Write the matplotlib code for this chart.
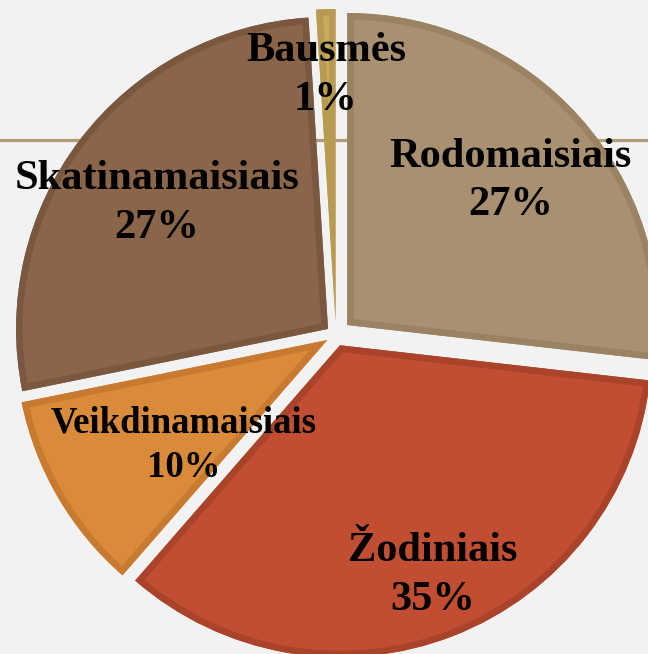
import numpy as np
import matplotlib
matplotlib.use("Agg")
import matplotlib.pyplot as plt
from matplotlib.patches import Wedge

# Data (shares; labels show rounded percentages)
categories = ["Rodomaisiais", "Žodiniais", "Veikdinamaisiais", "Skatinamaisiais", "Bausmės"]
values = [26.8, 34.6, 10.4, 27.2, 1.0]

# Styles
fills = ["#A89070", "#C14E32", "#DA8B3A", "#8A654A", "#C9AB5E"]
edges = ["#9A8262", "#A9432A", "#C77A30", "#7A5840", "#B89A50"]
explode_px = [15, 11, 10, 10, 14]
label_r = [0.751, 0.825, 0.598, 0.716, 0.839]
label_dang = [0.0, 0.9, 5.25, 0.8, 0.4]
label_size = [30.5, 30.5, 26.5, 30.5, 30.5]

W, H = 648, 654
fig = plt.figure(figsize=(W / 100, H / 100), dpi=100, facecolor="#F2F2F2")
ax = fig.add_axes([0, 0, 1, 1])
ax.set_facecolor("#F2F2F2")

# decorative horizontal rule
ax.axhline(H - 140, color="#B39B74", lw=2.3, zorder=0)

cx, cy, R = 336, H - 335, 312
wedges, _ = ax.pie(values, startangle=90, counterclock=False, colors=fills,
                   explode=explode_px, center=(cx, cy), radius=R,
                   wedgeprops=dict(linewidth=0), frame=True)

for w, ec in zip(wedges, edges):
    w.set_zorder(2)
    b = Wedge(w.center, w.r, w.theta1, w.theta2, facecolor="none",
              edgecolor=ec, linewidth=9.5, zorder=3)
    ax.add_patch(b)
    b.set_clip_path(w)

for w, cat, v, lr, da, fs in zip(wedges, categories, values, label_r,
                                 label_dang, label_size):
    mid = np.deg2rad((w.theta1 + w.theta2) / 2 + da)
    x = cx + lr * R * np.cos(mid)
    y = cy + lr * R * np.sin(mid) - 2
    ax.text(x, y, f"{cat}\n{round(v)}%", ha="center", va="center", fontsize=fs,
            fontweight="bold", family=["Liberation Serif", "DejaVu Serif"],
            linespacing=1.36, zorder=5, color="black")

ax.set_xlim(0, W)
ax.set_ylim(0, H)
ax.set_aspect("auto")
ax.axis("off")

fig.savefig("out.png", dpi=100, facecolor=fig.get_facecolor())
